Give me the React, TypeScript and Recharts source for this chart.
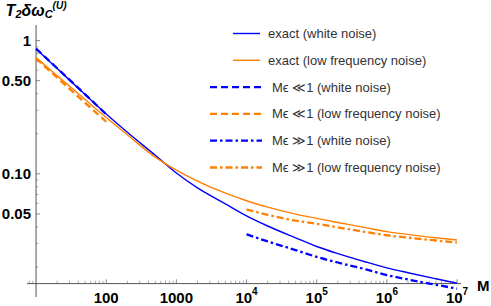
import { LineChart, Line, XAxis, YAxis, ReferenceLine, Legend } from 'recharts';

const BLUE = '#0000ff';
const ORANGE = '#ff8000';
const AXIS = '#555555';
const FONT = '"Liberation Sans", Arial, sans-serif';

// exact curves
const M_EXACT = [10, 20, 50, 100, 200, 500, 1e3, 2e3, 5e3, 1e4, 2e4, 5e4, 1e5, 2e5, 5e5, 1e6, 2e6, 5e6, 1e7];
const EXACT_WHITE = [0.866, 0.617, 0.394, 0.281, 0.205, 0.138, 0.1015, 0.0785, 0.0595, 0.0484, 0.0406, 0.0331, 0.0285, 0.0252, 0.0218, 0.0197, 0.0181, 0.0163, 0.0151];
const EXACT_LOWFREQ = [0.745, 0.545, 0.361, 0.265, 0.1965, 0.1335, 0.1066, 0.0881, 0.0716, 0.0628, 0.0563, 0.0499, 0.0463, 0.0431, 0.0395, 0.0368, 0.0351, 0.0331, 0.0319];

// M eps << 1 approximation
const M_SMALL = [10, 20, 50, 100];
const SMALL_WHITE = [0.87, 0.62, 0.395, 0.28];
const SMALL_LOWFREQ = [0.735, 0.527, 0.341, 0.246];

// M eps >> 1 approximation
const M_LARGE = [1e4, 2e4, 5e4, 1e5, 2e5, 5e5, 1e6, 2e6, 5e6, 1e7];
const LARGE_WHITE = [0.0352, 0.0311, 0.0268, 0.0238, 0.0216, 0.0192, 0.0174, 0.0161, 0.0147, 0.01375];
const LARGE_LOWFREQ = [0.054, 0.0493, 0.0445, 0.0422, 0.0396, 0.0366, 0.0346, 0.0332, 0.0316, 0.0305];

const X_TICKS = [100, 1000, 1e4, 1e5, 1e6, 1e7];
const Y_TICKS = [0.05, 0.1, 0.5, 1];
const Y_TICK_LABELS = ['0.05', '0.10', '0.50', '1'];
const X_MINOR = [8, 9, ...[10, 100, 1e3, 1e4, 1e5, 1e6].flatMap((d) => [2, 3, 4, 5, 6, 7, 8, 9].map((k) => k * d))];
const Y_MINOR = [0.02, 0.03, 0.04, 0.06, 0.07, 0.08, 0.09, 0.2, 0.3, 0.4, 0.6, 0.7, 0.8, 0.9];

const X_DOMAIN = [7.43, 1.14e7];
const Y_DOMAIN = [0.0119, 1.31];
const X_ORIGIN = 10;
const Y_ORIGIN = 0.015;

const toRows = (ms: number[], vs: number[]) => ms.map((M, i) => ({ M, v: vs[i] }));

const DASH = '7 4';
const DASH_DOT = '7 3 2.5 3';

const SERIES = [
  { name: 'exact (white noise)', m: M_EXACT, v: EXACT_WHITE, color: BLUE, width: 1.4, dash: undefined, sample: [233, 260], textX: 268 },
  { name: 'exact (low frequency noise)', m: M_EXACT, v: EXACT_LOWFREQ, color: ORANGE, width: 1.4, dash: undefined, sample: [233, 260], textX: 268 },
  { name: 'M\u03F5 \u226A1 (white noise)', m: M_SMALL, v: SMALL_WHITE, color: BLUE, width: 2.3, dash: DASH, sample: [210, 262], textX: 272 },
  { name: 'M\u03F5 \u226A1 (low frequency noise)', m: M_SMALL, v: SMALL_LOWFREQ, color: ORANGE, width: 2.3, dash: DASH, sample: [210, 262], textX: 272 },
  { name: 'M\u03F5 \u226B1 (white noise)', m: M_LARGE, v: LARGE_WHITE, color: BLUE, width: 2.3, dash: DASH_DOT, sample: [210, 262], textX: 272 },
  { name: 'M\u03F5 \u226B1 (low frequency noise)', m: M_LARGE, v: LARGE_LOWFREQ, color: ORANGE, width: 2.3, dash: DASH_DOT, sample: [210, 262], textX: 272 },
];

const LEGEND_Y0 = 33.5;
const LEGEND_DY = 26.8;

function LegendBox() {
  return (
    <svg width={491} height={185} style={{ display: 'block' }}>
      {SERIES.map((s, i) => {
        const y = LEGEND_Y0 + i * LEGEND_DY;
        return (
          <g key={s.name}>
            <line x1={s.sample[0]} x2={s.sample[1]} y1={y} y2={y} stroke={s.color} strokeWidth={s.width} strokeDasharray={s.dash} />
            <text x={s.textX} y={y + 4.5} fontFamily={FONT} fontSize={13} fill="#333">
              {s.name}
            </text>
          </g>
        );
      })}
    </svg>
  );
}

function XTick({ x, y, payload }: any) {
  const v = payload.value;
  const common = { x, y, dy: '0.71em', textAnchor: 'middle' as const, fontFamily: FONT, fontSize: 15, fontWeight: 'bold', fill: '#000' };
  if (v < 1e4) return <text {...common}>{v}</text>;
  return (
    <text {...common}>
      10
      <tspan dy={-7.5} fontSize={10}>
        {Math.round(Math.log10(v))}
      </tspan>
    </text>
  );
}

function YTitle({ viewBox }: any) {
  return (
    <text x={viewBox.x} y={viewBox.y - 9} textAnchor="middle" fontFamily={FONT} fontStyle="italic" fontWeight="bold" fontSize={16} fill="#000">
      T
      <tspan fontSize={11} dy={2}>2</tspan>
      <tspan dy={-2}>{'\u03B4\u03C9'}</tspan>
      <tspan fontSize={11} dy={2}>C</tspan>
      <tspan fontSize={10} dy={-9.5}>(U)</tspan>
    </text>
  );
}

function XTitle({ viewBox }: any) {
  return (
    <text x={viewBox.x + viewBox.width + 16} y={viewBox.y + 2} dy="0.355em" fontFamily={FONT} fontWeight="bold" fontSize={15} fill="#000">
      M
    </text>
  );
}

const xTickLen = (major: boolean) => Math.pow(10, major ? 0.032 : 0.022);
const yTickLen = (major: boolean) => Math.pow(10, major ? 0.057 : 0.036);

export default function App() {
  return (
    <div style={{ position: 'absolute', left: 0, top: 0 }}>
      <LineChart width={491} height={306} margin={{ top: 25, right: 30, bottom: 0, left: 0 }}>
        <XAxis
          dataKey="M"
          type="number"
          scale="log"
          domain={X_DOMAIN}
          allowDataOverflow
          ticks={X_TICKS}
          interval={0}
          height={9}
          axisLine={false}
          tickLine={false}
          tickSize={0}
          tickMargin={-5}
          tick={<XTick />}
        />
        <YAxis
          type="number"
          scale="log"
          domain={Y_DOMAIN}
          allowDataOverflow
          ticks={Y_TICKS}
          interval={0}
          width={27}
          axisLine={false}
          tickLine={false}
          tickSize={0}
          tickMargin={-4}
          tickFormatter={(v: number) => Y_TICK_LABELS[Y_TICKS.indexOf(v)] ?? String(v)}
          tick={{ fontSize: 15, fontWeight: 'bold', fill: '#000', fontFamily: FONT }}
        />

        {X_MINOR.map((m) => (
          <ReferenceLine key={`xm${m}`} ifOverflow="visible" stroke="#aaa" strokeWidth={1}
            segment={[{ x: m, y: Y_ORIGIN }, { x: m, y: Y_ORIGIN * xTickLen(false) }]} />
        ))}
        {X_TICKS.map((m) => (
          <ReferenceLine key={`xM${m}`} ifOverflow="visible" stroke="#888" strokeWidth={1}
            segment={[{ x: m, y: Y_ORIGIN }, { x: m, y: Y_ORIGIN * xTickLen(true) }]} />
        ))}
        {Y_MINOR.map((v) => (
          <ReferenceLine key={`ym${v}`} ifOverflow="visible" stroke="#aaa" strokeWidth={1}
            segment={[{ x: X_ORIGIN, y: v }, { x: X_ORIGIN * yTickLen(false), y: v }]} />
        ))}
        {Y_TICKS.map((v) => (
          <ReferenceLine key={`yM${v}`} ifOverflow="visible" stroke="#888" strokeWidth={1}
            segment={[{ x: X_ORIGIN, y: v }, { x: X_ORIGIN * yTickLen(true), y: v }]} />
        ))}

        <ReferenceLine x={X_ORIGIN} stroke={AXIS} strokeWidth={1} label={<YTitle />} />
        <ReferenceLine y={Y_ORIGIN} stroke={AXIS} strokeWidth={1} label={<XTitle />} />

        {SERIES.map((s) => (
          <Line
            key={s.name}
            name={s.name}
            data={toRows(s.m, s.v)}
            dataKey="v"
            type="monotone"
            stroke={s.color}
            strokeWidth={s.width}
            strokeDasharray={s.dash}
            dot={false}
            activeDot={false}
            isAnimationActive={false}
          />
        ))}

        <Legend
          layout="vertical"
          align="center"
          verticalAlign="middle"
          wrapperStyle={{ left: 0, top: 0, width: 491, height: 185 }}
          content={() => <LegendBox />}
        />
      </LineChart>
    </div>
  );
}
